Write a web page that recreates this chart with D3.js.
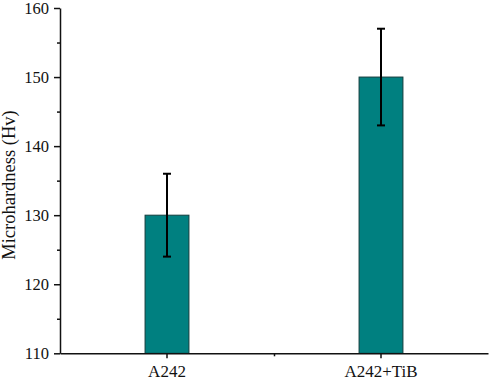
<!DOCTYPE html>
<html>
<head>
<meta charset="utf-8">
<script src="https://cdn.jsdelivr.net/npm/d3@7"></script>
<style>
  body { margin: 0; background: #fff; }
  text { font-family: "Liberation Serif", "Times New Roman", serif; fill: #111; }
</style>
</head>
<body>
<svg id="chart" width="491" height="381"></svg>
<script>
var categories = ['A242', 'A242+TiB'];
var hardness = [130, 150];
var errors = [6, 7];
var yTicks = [110, 120, 130, 140, 150, 160];
var yMinorTicks = [115, 125, 135, 145, 155];

function draw() {
  var svg = d3.select('#chart');
  var mLeft = 60, mRight = 488, mTop = 8, mBottom = 353.3;

  var x = d3.scaleBand().domain(categories).range([mLeft, mRight]).padding(0);
  var y = d3.scaleLinear().domain([110, 160]).range([mBottom, mTop]);
  var barW = x.bandwidth() * 0.205;
  var cx = function(d) { return x(d) + x.bandwidth() / 2; };

  // bars
  svg.selectAll('rect.bar')
    .data(categories)
    .enter().append('rect')
      .attr('class', 'bar')
      .attr('x', function(d) { return cx(d) - barW / 2; })
      .attr('y', function(d, i) { return y(hardness[i]); })
      .attr('width', barW)
      .attr('height', function(d, i) { return mBottom - y(hardness[i]); })
      .attr('fill', '#008080')
      .attr('stroke', '#123c3c')
      .attr('stroke-width', 1);

  // error bars
  var eb = svg.selectAll('g.err')
    .data(categories)
    .enter().append('g')
      .attr('class', 'err')
      .attr('stroke', '#000')
      .attr('stroke-width', 2);
  eb.append('line')
    .attr('x1', cx).attr('x2', cx)
    .attr('y1', function(d, i) { return y(hardness[i] + errors[i]); })
    .attr('y2', function(d, i) { return y(hardness[i] - errors[i]); });
  [1, -1].forEach(function(s) {
    eb.append('line')
      .attr('x1', function(d) { return cx(d) - 4; })
      .attr('x2', function(d) { return cx(d) + 4; })
      .attr('y1', function(d, i) { return y(hardness[i] + s * errors[i]); })
      .attr('y2', function(d, i) { return y(hardness[i] + s * errors[i]); });
  });

  // y axis
  svg.append('g')
    .attr('class', 'yaxis')
    .attr('transform', 'translate(' + mLeft + ',0)')
    .call(d3.axisLeft(y).tickValues(yTicks).tickSize(6).tickPadding(5).tickSizeOuter(0));
  svg.append('g')
    .attr('transform', 'translate(' + mLeft + ',0)')
    .call(d3.axisLeft(y).tickValues(yMinorTicks).tickSize(3).tickFormat('').tickSizeOuter(0))
    .select('.domain').remove();

  // x axis
  svg.append('g')
    .attr('class', 'xaxis')
    .attr('transform', 'translate(0,' + mBottom + ')')
    .call(d3.axisBottom(x).tickSize(5).tickPadding(7).tickSizeOuter(0));
  svg.append('g')
    .attr('transform', 'translate(0,' + mBottom + ')')
    .call(d3.axisBottom(d3.scaleLinear().domain([0, 1]).range([mLeft, mRight]))
      .tickValues([0.5]).tickSize(3).tickFormat(''))
    .select('.domain').remove();

  svg.selectAll('.domain').attr('stroke', '#111').attr('stroke-width', 1.5);
  svg.selectAll('.tick line').attr('stroke', '#111').attr('stroke-width', 1.5);
  svg.selectAll('.tick text')
    .style('font-family', '"Liberation Serif", serif')
    .attr('fill', '#111');
  svg.selectAll('.yaxis .tick text').style('font-size', '16.5px');
  svg.selectAll('.xaxis .tick text').style('font-size', '17px');

  // axis title
  svg.append('text')
    .attr('transform', 'translate(15,' + 185 + ') rotate(-90)')
    .attr('text-anchor', 'middle')
    .style('font-size', '18.5px')
    .text('Microhardness (Hv)');
}
draw();
</script>
</body>
</html>
